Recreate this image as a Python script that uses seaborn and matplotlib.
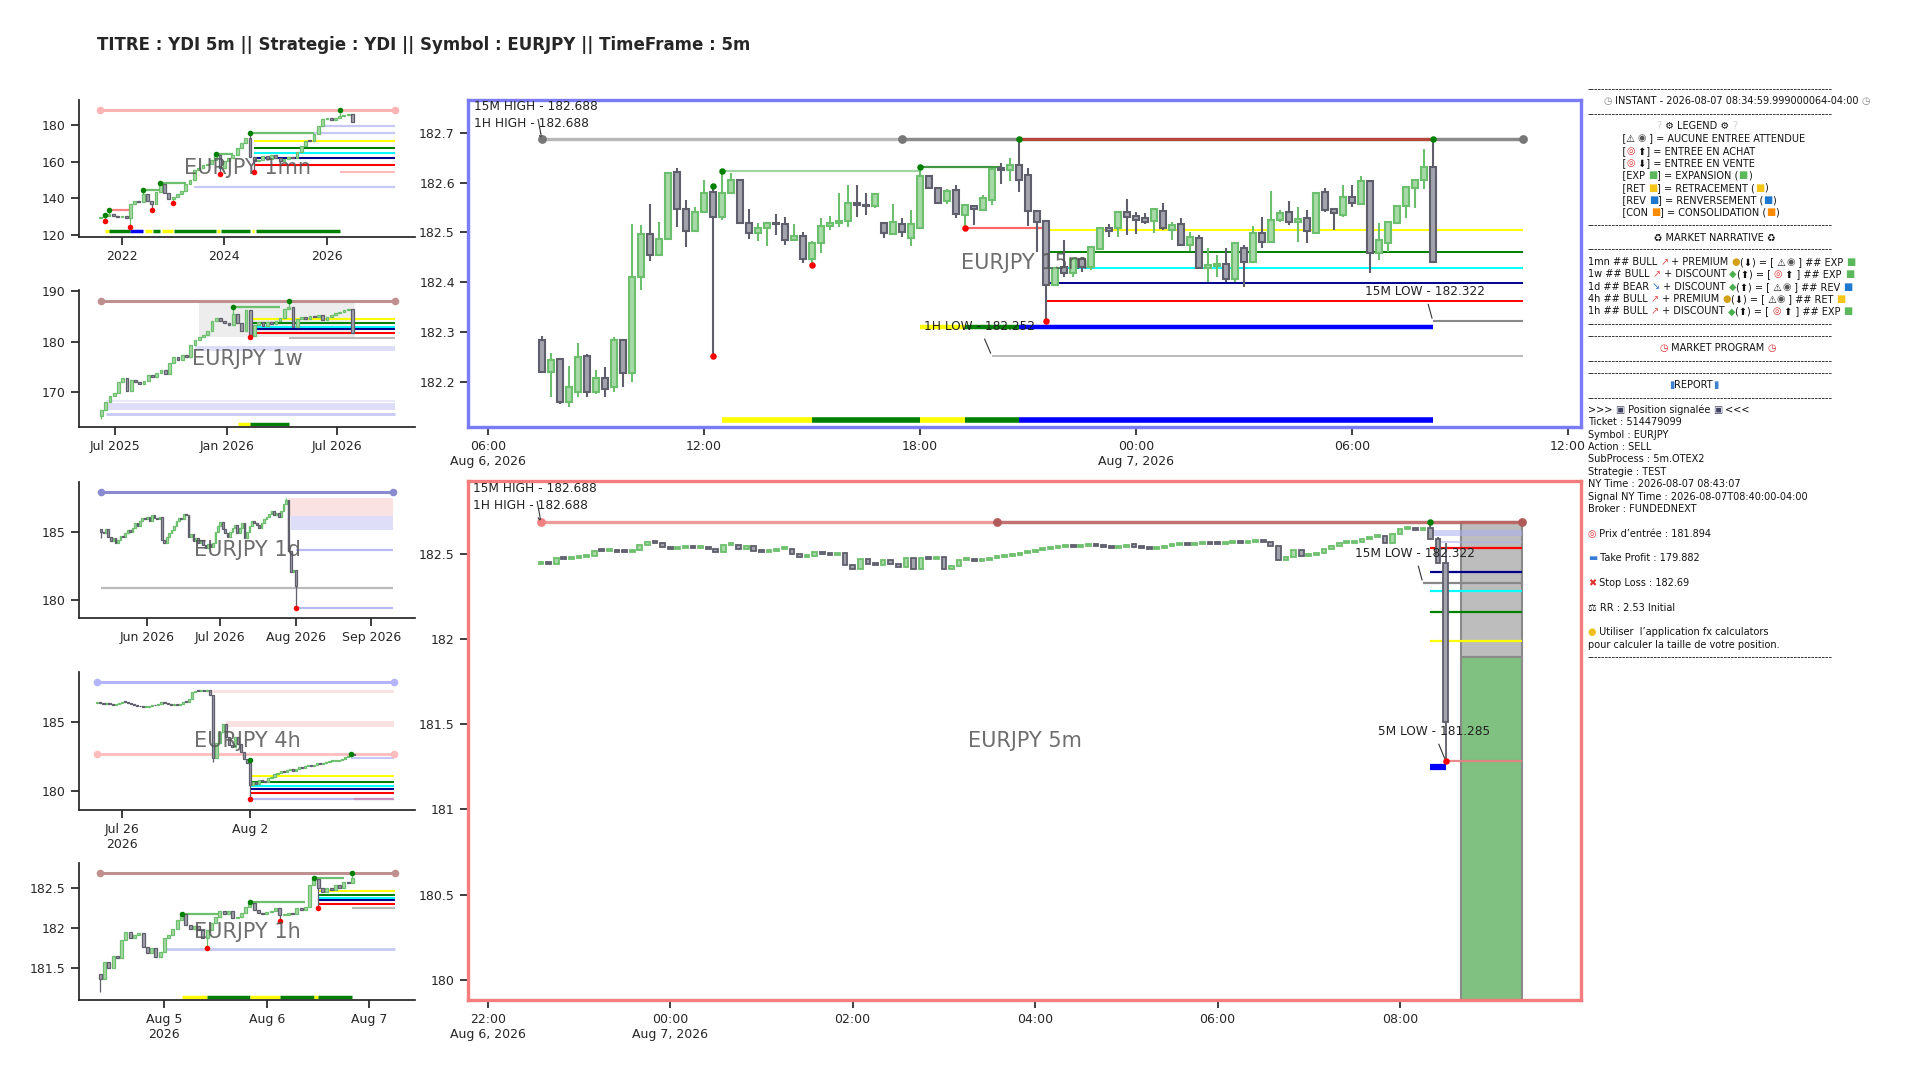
import numpy as np
import pandas as pd
import matplotlib
matplotlib.use("Agg")
import matplotlib.pyplot as plt
import matplotlib.dates as mdates
import seaborn as sns

sns.set_theme(style="ticks")
plt.rcParams["font.family"] = ["DejaVu Sans"]

# ---------------------------------------------------------------- 15m (top)
m15_start = "2026-08-06 07:30"
m15_open = [182.284, 182.220, 182.245, 182.160, 182.180, 182.251, 182.180, 182.208, 182.190, 182.283,
            182.218, 182.411, 182.496, 182.455, 182.486, 182.622, 182.546, 182.503, 182.541, 182.582,
            182.530, 182.580, 182.606, 182.519, 182.498, 182.508, 182.519, 182.517, 182.485, 182.492,
            182.446, 182.478, 182.513, 182.518, 182.523, 182.559, 182.555, 182.553, 182.519, 182.496,
            182.517, 182.488, 182.509, 182.613, 182.590, 182.563, 182.586, 182.535, 182.553, 182.545,
            182.566, 182.630, 182.626, 182.635, 182.616, 182.543, 182.523, 182.394, 182.430, 182.418,
            182.447, 182.430, 182.467, 182.508, 182.508, 182.541, 182.533, 182.529, 182.523, 182.543,
            182.505, 182.516, 182.474, 182.489, 182.428, 182.432, 182.436, 182.406, 182.469, 182.441,
            182.498, 182.481, 182.524, 182.541, 182.521, 182.528, 182.498, 182.582, 182.548, 182.535,
            182.571, 182.558, 182.604, 182.458, 182.479, 182.518, 182.553, 182.589, 182.605, 182.632]
m15_high = [182.291, 182.257, 182.247, 182.232, 182.277, 182.256, 182.224, 182.229, 182.290, 182.285,
            182.516, 182.515, 182.558, 182.521, 182.620, 182.630, 182.565, 182.551, 182.606, 182.593,
            182.624, 182.620, 182.607, 182.546, 182.518, 182.520, 182.536, 182.531, 182.516, 182.500,
            182.483, 182.528, 182.533, 182.580, 182.595, 182.596, 182.579, 182.578, 182.519, 182.558,
            182.528, 182.545, 182.632, 182.613, 182.590, 182.588, 182.595, 182.555, 182.553, 182.575,
            182.628, 182.640, 182.650, 182.688, 182.630, 182.543, 182.523, 182.430, 182.485, 182.450,
            182.450, 182.470, 182.509, 182.516, 182.541, 182.567, 182.541, 182.538, 182.549, 182.560,
            182.521, 182.529, 182.501, 182.494, 182.468, 182.455, 182.468, 182.480, 182.474, 182.513,
            182.531, 182.583, 182.545, 182.563, 182.551, 182.545, 182.580, 182.590, 182.548, 182.596,
            182.596, 182.613, 182.605, 182.518, 182.521, 182.553, 182.592, 182.606, 182.667, 182.688]
m15_low = [182.218, 182.170, 182.155, 182.150, 182.170, 182.170, 182.175, 182.170, 182.180, 182.190,
           182.200, 182.384, 182.442, 182.455, 182.485, 182.511, 182.471, 182.500, 182.538, 182.252,
           182.525, 182.577, 182.516, 182.487, 182.483, 182.473, 182.495, 182.475, 182.483, 182.438,
           182.434, 182.458, 182.505, 182.510, 182.510, 182.531, 182.535, 182.550, 182.489, 182.496,
           182.491, 182.473, 182.509, 182.590, 182.560, 182.558, 182.529, 182.508, 182.515, 182.545,
           182.555, 182.598, 182.603, 182.581, 182.513, 182.461, 182.322, 182.394, 182.410, 182.410,
           182.420, 182.425, 182.467, 182.491, 182.491, 182.495, 182.496, 182.516, 182.498, 182.505,
           182.485, 182.474, 182.462, 182.426, 182.400, 182.411, 182.400, 182.400, 182.391, 182.441,
           182.468, 182.481, 182.520, 182.515, 182.481, 182.478, 182.498, 182.541, 182.505, 182.531,
           182.551, 182.556, 182.418, 182.444, 182.461, 182.518, 182.528, 182.550, 182.588, 182.441]
m15_close = [182.220, 182.244, 182.160, 182.190, 182.249, 182.180, 182.208, 182.185, 182.284, 182.218,
             182.411, 182.496, 182.455, 182.486, 182.620, 182.546, 182.503, 182.541, 182.580, 182.530,
             182.580, 182.606, 182.519, 182.498, 182.508, 182.519, 182.517, 182.485, 182.492, 182.446,
             182.478, 182.513, 182.518, 182.523, 182.559, 182.555, 182.553, 182.578, 182.499, 182.521,
             182.501, 182.517, 182.613, 182.590, 182.560, 182.584, 182.536, 182.555, 182.546, 182.570,
             182.628, 182.626, 182.635, 182.606, 182.543, 182.521, 182.394, 182.428, 182.418, 182.447,
             182.430, 182.470, 182.509, 182.503, 182.541, 182.531, 182.525, 182.521, 182.546, 182.508,
             182.515, 182.474, 182.490, 182.429, 182.434, 182.436, 182.406, 182.478, 182.441, 182.498,
             182.481, 182.525, 182.539, 182.521, 182.526, 182.503, 182.580, 182.545, 182.538, 182.571,
             182.559, 182.604, 182.458, 182.485, 182.521, 182.553, 182.592, 182.606, 182.632, 182.441]
m15_swing_highs = [19, 20, 42, 53, 99]
m15_swing_lows = [19, 30, 47, 56]
m15_end = "2026-08-07 10:45"
m15_key_high = 182.688
m15_key_dots = ["2026-08-06 07:30", "2026-08-06 17:30", "2026-08-07 10:45"]
m15_swing_lines = [(182.624, "2026-08-06 12:30", "2026-08-06 18:00", "light"),
                   (182.632, "2026-08-06 18:00", "2026-08-06 20:15", "green"),
                   (182.508, "2026-08-06 19:15", "2026-08-06 21:30", "red")]
m15_levels = [182.505, 182.461, 182.429, 182.399, 182.363]
m15_levels_start = "2026-08-06 21:30"
m15_low_1h = (182.252, "2026-08-06 20:00")
m15_low_15m = (182.322, "2026-08-07 08:15")
m15_row_mid = [("2026-08-06 18:00", "2026-08-06 19:15", "yellow"),
               ("2026-08-06 19:15", "2026-08-06 20:45", "green"),
               ("2026-08-06 20:45", "2026-08-07 08:15", "blue")]
m15_row_mid_y = 182.31
m15_row_low = [("2026-08-06 12:30", "2026-08-06 15:00", "yellow"),
               ("2026-08-06 15:00", "2026-08-06 18:00", "green"),
               ("2026-08-06 18:00", "2026-08-06 19:15", "yellow"),
               ("2026-08-06 19:15", "2026-08-06 20:45", "green"),
               ("2026-08-06 20:45", "2026-08-07 08:15", "blue")]
m15_row_low_y = 182.124
m15_xticks = ["2026-08-06 06:00", "2026-08-06 12:00", "2026-08-06 18:00",
              "2026-08-07 00:00", "2026-08-07 06:00", "2026-08-07 12:00"]
m15_xlabels = ["06:00\nAug 6, 2026", "12:00", "18:00", "00:00\nAug 7, 2026", "06:00", "12:00"]
m15_yticks = [182.2, 182.3, 182.4, 182.5, 182.6, 182.7]

# ---------------------------------------------------------------- 5m (bottom)
m5_start = "2026-08-06 22:35"
m5_first_open = 182.442
m5_close = [182.455, 182.440, 182.475, 182.472, 182.479, 182.484, 182.489, 182.520, 182.516, 182.519,
            182.514, 182.511, 182.524, 182.553, 182.572, 182.565, 182.543, 182.528, 182.534, 182.538,
            182.535, 182.542, 182.530, 182.510, 182.553, 182.556, 182.533, 182.547, 182.518, 182.514,
            182.518, 182.528, 182.533, 182.500, 182.485, 182.489, 182.514, 182.500, 182.496, 182.504,
            182.436, 182.410, 182.469, 182.445, 182.436, 182.465, 182.442, 182.422, 182.475, 182.410,
            182.479, 182.469, 182.485, 182.410, 182.430, 182.465, 182.470, 182.462, 182.468, 182.476,
            182.483, 182.490, 182.497, 182.505, 182.515, 182.522, 182.530, 182.536, 182.543, 182.548,
            182.541, 182.550, 182.556, 182.548, 182.543, 182.536, 182.544, 182.551, 182.545, 182.538,
            182.530, 182.537, 182.546, 182.552, 182.559, 182.553, 182.560, 182.566, 182.561, 182.557,
            182.563, 182.571, 182.566, 182.572, 182.578, 182.570, 182.548, 182.468, 182.485, 182.524,
            182.489, 182.496, 182.504, 182.533, 182.549, 182.563, 182.567, 182.573, 182.588, 182.602,
            182.606, 182.567, 182.621, 182.645, 182.651, 182.644, 182.651, 182.592, 182.449, 181.512]
m5_highs = {117: 182.690, 118: 182.600, 119: 182.563}
m5_lows = {119: 181.285}
m5_end = "2026-08-07 09:20"
m5_key_high = 182.688
m5_key_dots = ["2026-08-06 22:35", "2026-08-07 03:35", "2026-08-07 09:20"]
m5_fvg = [(182.606, 182.640, "2026-08-07 08:20"), (182.565, 182.575, "2026-08-07 08:25")]
m5_levels = [181.990, 182.162, 182.285, 182.396, 182.537]
m5_levels_start = "2026-08-07 08:20"
m5_low_15m = (182.332, "2026-08-07 08:15")
m5_low_5m = (181.285, "2026-08-07 08:30")
m5_row = ("2026-08-07 08:20", "2026-08-07 08:30", 181.247)
m5_entry, m5_tp, m5_sl = 181.894, 179.882, 182.69
m5_box = ("2026-08-07 08:40", "2026-08-07 09:20")
m5_xticks = ["2026-08-06 22:00", "2026-08-07 00:00", "2026-08-07 02:00",
             "2026-08-07 04:00", "2026-08-07 06:00", "2026-08-07 08:00"]
m5_xlabels = ["22:00\nAug 6, 2026", "00:00\nAug 7, 2026", "02:00", "04:00", "06:00", "08:00"]
m5_yticks = [180, 180.5, 181, 181.5, 182, 182.5]

# ---------------------------------------------------------------- 1mn
mn_start = "2021-08-01"
mn_first_open = 129.0
mn_close = [129.5, 130.0, 131.5, 130.0, 129.8, 130.2, 129.0, 136.5, 138.5, 138.0,
            142.5, 138.5, 137.0, 143.5, 147.5, 143.0, 139.5, 140.5, 142.5, 144.0,
            147.5, 150.0, 155.5, 156.5, 158.0, 158.5, 161.0, 163.5, 156.5, 160.5,
            162.0, 163.5, 167.5, 170.0, 173.0, 162.5, 160.5, 161.0, 163.0, 161.5,
            163.5, 162.0, 160.5, 161.5, 162.5, 162.0, 165.0, 168.5, 171.5, 171.0,
            175.0, 179.5, 183.5, 184.0, 182.5, 184.0, 185.0, 185.5, 186.0, 181.5]
mn_highs = {1: 130.5, 2: 133.3, 10: 144.3, 14: 148.3, 27: 164.4, 35: 175.4, 56: 188.1}
mn_lows = {1: 127.4, 7: 124.1, 12: 133.3, 17: 137.3, 28: 153.1, 36: 154.4}

# ---------------------------------------------------------------- 1w
w_start = "2025-06-09"
w_first_open = 165.3
w_close = [166.6, 168.2, 169.4, 169.9, 172.0, 172.8, 170.3, 172.4, 172.0, 171.6,
           172.2, 173.4, 173.0, 173.9, 174.4, 173.6, 175.8, 176.9, 176.4, 177.4,
           176.9, 179.4, 180.4, 181.0, 181.4, 182.1, 184.0, 184.6, 184.1, 183.6,
           183.4, 185.4, 183.6, 182.2, 186.2, 181.2, 183.4, 183.8, 183.2, 183.9,
           183.5, 184.0, 184.6, 186.4, 186.8, 183.0, 184.4, 184.9, 184.5, 185.0,
           184.8, 185.2, 184.2, 184.9, 185.3, 185.6, 185.9, 186.2, 186.4, 181.7]
w_highs = {31: 186.9, 44: 188.0}
w_lows = {0: 164.8, 35: 180.9}

# ---------------------------------------------------------------- 1d
d_start = "2026-05-13"
d_first_open = 185.2
d_close = [185.0, 184.9, 185.2, 184.6, 184.3, 184.5, 184.2, 184.4, 184.7, 184.6,
           184.9, 185.1, 185.0, 185.3, 185.6, 185.4, 185.8, 186.0, 185.9, 186.1,
           185.8, 186.2, 186.0, 185.9, 186.1, 184.4, 184.2, 184.6, 184.9, 185.1,
           185.4, 185.8, 186.0, 185.9, 186.3, 186.2, 184.6, 184.8, 184.3, 184.5,
           184.2, 184.4, 184.0, 183.8, 184.1, 183.9, 184.2, 185.0, 185.4, 185.7,
           185.2, 184.9, 184.6, 185.0, 185.3, 185.5, 184.9, 185.3, 185.6, 184.5,
           185.0, 185.4, 185.8, 185.6, 185.5, 185.3, 185.6, 185.9, 186.1, 186.3,
           186.5, 186.2, 186.4, 186.1, 186.5, 187.0, 187.3, 183.6, 182.0, 182.2,
           181.0]
d_highs = {76: 187.45}
d_lows = {0: 184.5, 80: 179.41}

# ---------------------------------------------------------------- 4h
h4_start = "2026-07-24 16:00"
h4_first_open = 186.40
h4_close = [186.45, 186.40, 186.35, 186.38, 186.30, 186.28, 186.35, 186.42, 186.48, 186.45,
            186.40, 186.30, 186.25, 186.20, 186.15, 186.10, 186.12, 186.20, 186.25, 186.22,
            186.30, 186.45, 186.40, 186.35, 186.25, 186.30, 186.28, 186.35, 186.50, 186.45,
            186.70, 187.20, 187.30, 187.25, 187.30, 187.28, 187.32, 187.00, 182.40, 183.50,
            184.30, 184.90, 183.90, 183.30, 183.20, 183.90, 183.40, 182.80, 182.30, 182.00,
            180.40, 180.60, 180.50, 180.80, 180.70, 180.60, 180.90, 181.00, 181.20, 181.30,
            181.40, 181.35, 181.50, 181.55, 181.45, 181.60, 181.70, 181.65, 181.80, 181.85,
            181.80, 181.90, 182.00, 181.95, 182.05, 182.10, 182.15, 182.20, 182.20, 182.25,
            182.30, 182.45, 182.50, 182.65, 182.60]
h4_highs = {50: 182.24, 83: 182.68}
h4_lows = {38: 182.12, 50: 179.37}

# ---------------------------------------------------------------- 1h
h1_start = "2026-08-04 09:00"
h1_first_open = 181.42
h1_close = [181.35, 181.57, 181.50, 181.64, 181.62, 181.85, 181.95, 181.87, 181.91, 181.93,
            181.76, 181.68, 181.75, 181.63, 181.70, 181.87, 181.91, 181.99, 182.10, 182.18,
            182.04, 181.99, 182.02, 181.97, 181.87, 181.97, 182.06, 182.14, 182.21, 182.18,
            182.22, 182.12, 182.14, 182.19, 182.27, 182.31, 182.23, 182.19, 182.17, 182.20,
            182.22, 182.25, 182.16, 182.16, 182.19, 182.17, 182.25, 182.23, 182.27, 182.54,
            182.62, 182.50, 182.46, 182.50, 182.48, 182.54, 182.51, 182.58, 182.57, 182.63]
h1_highs = {19: 182.18, 35: 182.33, 50: 182.63, 59: 182.69}
h1_lows = {0: 181.19, 25: 181.75, 42: 182.09, 51: 182.25}

# ---------------------------------------------------------------- text panel
panel_lines = [
    "-" * 70,
    "     \u23f1 INSTANT - 2026-08-07 08:34:59.999000064-04:00 \u23f1",
    "-" * 70,
    "                      \u2754 \u2699 LEGEND \u2699 \u2754",
    "           [\u26a0 \U0001F441 ] = AUCUNE ENTREE ATTENDUE",
    "           [\U0001F3AF \u2B06] = ENTREE EN ACHAT",
    "           [\U0001F3AF \u2B07] = ENTREE EN VENTE",
    "           [EXP \U0001F7E9] = EXPANSION (\U0001F7E9)",
    "           [RET \U0001F7E8] = RETRACEMENT (\U0001F7E8)",
    "           [REV \U0001F7E6] = RENVERSEMENT (\U0001F7E6)",
    "           [CON \U0001F7E7] = CONSOLIDATION (\U0001F7E7)",
    "-" * 70,
    "                     \u267b MARKET NARRATIVE \u267b",
    "-" * 70,
    "1mn ## BULL \U0001F4C8 + PREMIUM \U0001F4B0(\u2B07) = [ \u26a0\U0001F441 ] ## EXP \U0001F7E9",
    "1w ## BULL \U0001F4C8 + DISCOUNT \U0001F4B8(\u2B06) = [ \U0001F3AF \u2B06 ] ## EXP \U0001F7E9",
    "1d ## BEAR \U0001F4C9 + DISCOUNT \U0001F4B8(\u2B06) = [ \u26a0\U0001F441 ] ## REV \U0001F7E6",
    "4h ## BULL \U0001F4C8 + PREMIUM \U0001F4B0(\u2B07) = [ \u26a0\U0001F441 ] ## RET \U0001F7E8",
    "1h ## BULL \U0001F4C8 + DISCOUNT \U0001F4B8(\u2B06) = [ \U0001F3AF \u2B06 ] ## EXP \U0001F7E9",
    "-" * 70,
    "-" * 70,
    "                       \u23f0 MARKET PROGRAM \u23f0",
    "-" * 70,
    "-" * 70,
    "                          \U0001F4CAREPORT\U0001F4CA",
    "-" * 70,
    ">>> \U0001F4FA Position signal\u00e9e \U0001F4FA <<<",
    "Ticket : 514479099",
    "Symbol : EURJPY",
    "Action : SELL",
    "SubProcess : 5m.OTEX2",
    "Strategie : TEST",
    "NY Time : 2026-08-07 08:43:07",
    "Signal NY Time : 2026-08-07T08:40:00-04:00",
    "Broker : FUNDEDNEXT",
    "",
    "\U0001F3AF Prix d\u2019entr\u00e9e : 181.894",
    "",
    "\U0001F4B6 Take Profit : 179.882",
    "",
    "\u274C Stop Loss : 182.69",
    "",
    "\u2696 RR : 2.53 Initial",
    "",
    "\U0001F4A1 Utiliser  l\u2019application fx calculators",
    "pour calculer la taille de votre position.",
    "-" * 70,
]
title = "TITRE : YDI 5m || Strategie : YDI || Symbol : EURJPY || TimeFrame : 5m"

# ---------------------------------------------------------------- styles
BULL_FILL, BULL_EDGE = "#a8d9a8", "#6cbf6c"
BEAR_FILL, BEAR_EDGE = "#a3a3ad", "#5e5e6c"
LEVEL_COLORS = ["#ffff00", "#008000", "#00ffff", "#00008b", "#ff0000"]
LAV = "#c8c8f5"
SEG = {"yellow": "#ffff00", "green": "#008000", "blue": "#0000ff"}
TEXT_COLOR = "#111111"
# emoji that no installed font has -> drawn as a coloured shape glyph
EMOJI_SHAPES = {
    "\u23f1": ("\u25f7", "#8a8a8a"), "\u23f0": ("\u25f7", "#e03030"),
    "\u2754": ("?", "#cfcfcf"), "\U0001F441": ("\u25c9", "#555555"),
    "\U0001F3AF": ("\u25ce", "#e03030"), "\U0001F7E9": ("\u25a0", "#5cb85c"),
    "\U0001F7E8": ("\u25a0", "#f5c518"), "\U0001F7E6": ("\u25a0", "#1e78d0"),
    "\U0001F7E7": ("\u25a0", "#ff8c00"), "\U0001F4C8": ("\u2197", "#e05050"),
    "\U0001F4C9": ("\u2198", "#3070d0"), "\U0001F4B0": ("\u25cf", "#d4a017"),
    "\U0001F4B8": ("\u25c6", "#4caf50"), "\U0001F4CA": ("\u25ae", "#4080d0"),
    "\U0001F4FA": ("\u25a3", "#404060"), "\U0001F4B6": ("\u25ac", "#3a7bd5"),
    "\u274C": ("\u2716", "#e03030"), "\U0001F4A1": ("\u25cf", "#f0c020"),
}


def T(s):
    return mdates.date2num(pd.Timestamp(s))


def chain(first_open, closes, highs, lows):
    c = np.asarray(closes, float)
    o = np.r_[first_open, c[:-1]]
    h = np.maximum(o, c)
    l = np.minimum(o, c)
    for k, v in highs.items():
        h[k] = v
    for k, v in lows.items():
        l[k] = v
    return o, h, l, c


def candles(ax, times, o, h, l, c, width, lw, min_body):
    x = mdates.date2num(times.to_pydatetime())
    o, h, l, c = (np.asarray(v, float) for v in (o, h, l, c))
    up = c >= o
    bottom = np.minimum(o, c)
    height = np.maximum(np.abs(c - o), min_body)
    ax.vlines(x[up], l[up], h[up], color=BULL_EDGE, lw=lw, zorder=3)
    ax.vlines(x[~up], l[~up], h[~up], color=BEAR_EDGE, lw=lw, zorder=3)
    ax.bar(x[up], height[up], bottom=bottom[up], width=width, color=BULL_FILL,
           edgecolor=BULL_EDGE, linewidth=lw, zorder=4)
    ax.bar(x[~up], height[~up], bottom=bottom[~up], width=width, color=BEAR_FILL,
           edgecolor=BEAR_EDGE, linewidth=lw, zorder=4)
    return x


def hseg(ax, y, t0, t1, color, lw=1.2, alpha=1.0, z=2):
    ax.hlines(y, T(t0), T(t1), colors=color, lw=lw, alpha=alpha, zorder=z)


def band(ax, y0, y1, t0, t1, color, alpha=0.5, z=1):
    ax.fill_between([T(t0), T(t1)], y0, y1, color=color, alpha=alpha, lw=0, zorder=z)


def dots(ax, xs, ys, color, s=16, z=6):
    sns.scatterplot(x=list(xs), y=list(ys), color=color, s=s, ax=ax, zorder=z,
                    linewidth=0, legend=False)


def watermark(ax, label):
    ax.text(0.5, 0.5, label, transform=ax.transAxes, ha="center", va="center",
            fontsize=15, color="#555555", alpha=0.85, zorder=7)


def tag(ax, label, t, y, dy=21):
    ax.annotate(label, xy=(T(t), y), xytext=(-49, dy), textcoords="offset points",
                ha="left", va="center", fontsize=8.7, color="#222222", zorder=8,
                arrowprops=dict(arrowstyle="-", color="#333333", lw=0.8))


fig = plt.figure(figsize=(19.2, 10.8), dpi=100)
fig.text(0.0505, 0.958, title, fontsize=12, fontweight="bold", ha="left", va="center")

# ================================================================ top main 15m
ax = fig.add_axes([0.24375, 0.60463, 0.57969, 0.30278])
t15 = pd.date_range(m15_start, periods=len(m15_close), freq="15min")
x15 = candles(ax, t15, m15_open, m15_high, m15_low, m15_close, 0.62 * 15 / 1440, 1.5, 0.002)
hseg(ax, m15_key_high, m15_start, m15_end, "#999999", lw=2.4, alpha=0.7)
hseg(ax, m15_key_high, m15_key_dots[1], m15_end, "#777777", lw=2.4, alpha=0.7)
hseg(ax, m15_key_high, str(t15[53]), str(t15[99]), "#c0392b", lw=2.2, alpha=0.85, z=2.5)
dots(ax, [T(s) for s in m15_key_dots], [m15_key_high] * 3, "#777777", s=40)
for y, t0, t1, kind in m15_swing_lines:
    col = {"light": "#7cc47c", "green": "#2e8b2e", "red": "#ff5555"}[kind]
    hseg(ax, y, t0, t1, col, lw=1.6, alpha=0.9 if kind != "light" else 0.7)
for y, col in zip(m15_levels, LEVEL_COLORS):
    hseg(ax, y, m15_levels_start, m15_end, col, lw=1.4)
hseg(ax, m15_low_1h[0], m15_low_1h[1], m15_end, "#bbbbbb", lw=1.5)
hseg(ax, m15_low_15m[0], m15_low_15m[1], m15_end, "#888888", lw=1.5)
for t0, t1, col in m15_row_mid:
    hseg(ax, m15_row_mid_y, t0, t1, SEG[col], lw=3.2, z=2.2)
for t0, t1, col in m15_row_low:
    hseg(ax, m15_row_low_y, t0, t1, SEG[col], lw=4.0, z=2.2)
dots(ax, x15[m15_swing_highs], np.array(m15_high)[m15_swing_highs], "#008000", s=22)
dots(ax, x15[m15_swing_lows], np.array(m15_low)[m15_swing_lows], "#ff0000", s=22)
tag(ax, "15M HIGH - 182.688", m15_start, m15_key_high, dy=23)
tag(ax, "1H HIGH - 182.688", m15_start, m15_key_high, dy=11)
tag(ax, "1H LOW - 182.252", m15_low_1h[1], m15_low_1h[0])
tag(ax, "15M LOW - 182.322", m15_low_15m[1], m15_low_15m[0])
watermark(ax, "EURJPY 15m")
ax.set_xlim(T("2026-08-06 05:27"), T("2026-08-07 12:22"))
ax.set_ylim(182.109, 182.766)
ax.set_xticks([T(s) for s in m15_xticks])
ax.set_xticklabels(m15_xlabels)
ax.set_yticks(m15_yticks)
ax.set_yticklabels([f"{v:g}" for v in m15_yticks])
for sp in ax.spines.values():
    sp.set_color("#7b7bf5")
    sp.set_linewidth(2.4)
ax.tick_params(labelsize=9)

# ================================================================ bottom main 5m
ax = fig.add_axes([0.24375, 0.07407, 0.57969, 0.48056])
t5 = pd.date_range(m5_start, periods=len(m5_close), freq="5min")
o5, h5, l5, c5 = chain(m5_first_open, m5_close, m5_highs, m5_lows)
x5 = candles(ax, t5, o5, h5, l5, c5, 0.62 * 5 / 1440, 1.3, 0.012)
hseg(ax, m5_key_high, m5_start, m5_end, "#e88080", lw=2.4, alpha=0.8)
hseg(ax, m5_key_high, m5_key_dots[1], m5_end, "#a05050", lw=2.4, alpha=0.55)
dots(ax, [T(m5_key_dots[0])], [m5_key_high], "#f08080", s=40)
dots(ax, [T(s) for s in m5_key_dots[1:]], [m5_key_high] * 2, "#b05a5a", s=40)
ax.fill_between([T(m5_box[0]), T(m5_box[1])], m5_entry, m5_sl, color="#bdbdbd",
                edgecolor="#8a8a8a", lw=1.5, zorder=1.5)
ax.fill_between([T(m5_box[0]), T(m5_box[1])], m5_tp, m5_entry, color="#80c080",
                edgecolor="#8a8a8a", lw=1.5, zorder=1.5)
for y0, y1, t0 in m5_fvg:
    band(ax, y0, y1, t0, m5_end, "#aab0f0", alpha=0.55, z=2)
for y, col in zip(m5_levels, LEVEL_COLORS):
    hseg(ax, y, m5_levels_start, m5_end, col, lw=1.6, z=2.5)
hseg(ax, m5_low_15m[0], m5_low_15m[1], m5_end, "#888888", lw=1.6, z=2.5)
hseg(ax, m5_low_5m[0], m5_low_5m[1], m5_end, "#e88080", lw=1.6, alpha=0.9, z=2.5)
hseg(ax, m5_row[2], m5_row[0], m5_row[1], "#0000ff", lw=4.5, z=2.5)
dots(ax, [x5[117]], [h5[117]], "#008000", s=22)
dots(ax, [x5[119]], [l5[119]], "#ff0000", s=22)
tag(ax, "15M HIGH - 182.688", m5_start, m5_key_high, dy=24)
tag(ax, "1H HIGH - 182.688", m5_start, m5_key_high, dy=12)
tag(ax, "15M LOW - 182.322", m5_low_15m[1], m5_low_15m[0])
tag(ax, "5M LOW - 181.285", m5_low_5m[1], m5_low_5m[0])
watermark(ax, "EURJPY 5m")
ax.set_xlim(T("2026-08-06 21:47"), T("2026-08-07 09:59"))
ax.set_ylim(179.88, 182.93)
ax.set_xticks([T(s) for s in m5_xticks])
ax.set_xticklabels(m5_xlabels)
ax.set_yticks(m5_yticks)
ax.set_yticklabels([f"{v:g}" for v in m5_yticks])
for sp in ax.spines.values():
    sp.set_color("#f47c7c")
    sp.set_linewidth(2.4)
ax.tick_params(labelsize=9)


# ================================================================ small charts
def small_axes(rect, xlim, ylim, xticks, xlabels, yticks, label):
    a = fig.add_axes(rect)
    a.set_xlim(T(xlim[0]), T(xlim[1]))
    a.set_ylim(*ylim)
    a.set_xticks([T(s) for s in xticks])
    a.set_xticklabels(xlabels)
    a.set_yticks(yticks)
    a.set_yticklabels([f"{v:g}" for v in yticks])
    a.tick_params(labelsize=9)
    sns.despine(ax=a)
    watermark(a, label)
    return a


# ---- 1mn
ax = small_axes([0.04115, 0.78056, 0.175, 0.12685], ("2021-03-01", "2027-09-20"), (118.7, 193.7),
                ["2022-01-01", "2024-01-01", "2026-01-01"], ["2022", "2024", "2026"],
                [120, 140, 160, 180], "EURJPY 1mn")
tm = pd.date_range(mn_start, periods=len(mn_close), freq="MS")
o, h, l, c = chain(mn_first_open, mn_close, mn_highs, mn_lows)
xm = candles(ax, tm, o, h, l, c, 20, 0.9, 0.6)
mn_end = "2027-05-01"
hseg(ax, 188.1, mn_start, mn_end, "#ffb3b3", lw=2.2)
dots(ax, [T(mn_start), T(mn_end)], [188.1, 188.1], "#ffb3b3", s=30)
for y, i0, i1, col in [(133.3, 2, 7, "#ff8080"), (144.3, 10, 14, "#6cbf6c"), (148.3, 14, 20, "#6cbf6c"),
                       (164.4, 27, 31, "#6cbf6c"), (175.4, 35, 50, "#6cbf6c")]:
    hseg(ax, y, str(tm[i0]), str(tm[i1]), col, lw=1.6)
for y, i0 in [(179.6, 52), (175.4, 50), (145.8, 22)]:
    hseg(ax, y, str(tm[i0]), mn_end, LAV, lw=1.6)
hseg(ax, 154.3, str(tm[56]), mn_end, "#ffbcbc", lw=1.6)
for y, col in zip([171.2, 167.2, 164.5, 161.7, 158.2], LEVEL_COLORS):
    hseg(ax, y, str(tm[36]), mn_end, col, lw=1.5)
for t0, t1, col in [("2021-09-01", "2021-10-01", "yellow"), ("2021-10-01", "2022-03-01", "green"),
                    ("2022-03-01", "2022-06-01", "blue"), ("2022-06-15", "2022-08-01", "yellow"),
                    ("2022-08-10", "2022-10-01", "green"), ("2022-10-15", "2023-01-01", "yellow"),
                    ("2023-01-10", "2023-11-01", "green"), ("2023-11-10", "2023-12-01", "yellow"),
                    ("2023-12-10", "2024-07-01", "green"), ("2024-07-15", "2024-08-01", "yellow"),
                    ("2024-08-10", "2026-04-01", "green")]:
    hseg(ax, 122.0, t0, t1, SEG[col], lw=2.5)
hi_idx = list(mn_highs)
lo_idx = list(mn_lows)
dots(ax, xm[hi_idx], h[hi_idx], "#008000", s=16)
dots(ax, xm[lo_idx], l[lo_idx], "#ff0000", s=16)

# ---- 1w
ax = small_axes([0.04115, 0.60463, 0.175, 0.12685], ("2025-05-03", "2026-11-07"), (163.2, 190.2),
                ["2025-07-01", "2026-01-01", "2026-07-01"], ["Jul 2025", "Jan 2026", "Jul 2026"],
                [170, 180, 190], "EURJPY 1w")
tw = pd.date_range(w_start, periods=len(w_close), freq="7D")
o, h, l, c = chain(w_first_open, w_close, w_highs, w_lows)
xw = candles(ax, tw, o, h, l, c, 4.5, 0.9, 0.25)
w_end = "2026-10-05"
band(ax, 181.0, 187.7, str(tw[23]), "2026-08-01", "#d9d9d9", alpha=0.45, z=0.5)
hseg(ax, 188.0, w_start, w_end, "#c09090", lw=2.2)
dots(ax, [T(w_start), T(w_end)], [188.0, 188.0], "#c09090", s=30)
hseg(ax, 186.9, str(tw[31]), str(tw[42]), "#6cbf6c", lw=1.6)
for y, col in zip([184.4, 183.6, 183.0, 182.5, 181.7], LEVEL_COLORS):
    hseg(ax, y, str(tw[35]), w_end, col, lw=1.5)
hseg(ax, 180.8, str(tw[44]), w_end, "#bbbbbb", lw=1.5)
band(ax, 178.1, 179.2, str(tw[22]), w_end, LAV, alpha=0.6)
band(ax, 166.6, 168.0, str(tw[1]), w_end, LAV, alpha=0.6)
hseg(ax, 165.8, str(tw[1]), w_end, LAV, lw=2.0)
hseg(ax, 168.4, str(tw[1]), w_end, "#e4e4fa", lw=1.2)
hseg(ax, 163.8, str(tw[32]), str(tw[35]), SEG["yellow"], lw=2.5)
hseg(ax, 163.8, str(tw[35]), str(tw[44]), SEG["green"], lw=2.5)
dots(ax, xw[[31, 44]], h[[31, 44]], "#008000", s=16)
dots(ax, xw[[35]], l[[35]], "#ff0000", s=16)

# ---- 1d
ax = small_axes([0.04115, 0.42778, 0.175, 0.12593], ("2026-05-04", "2026-09-19"), (178.66, 188.64),
                ["2026-06-01", "2026-07-01", "2026-08-01", "2026-09-01"],
                ["Jun 2026", "Jul 2026", "Aug 2026", "Sep 2026"], [180, 185], "EURJPY 1d")
td = pd.date_range(d_start, periods=len(d_close), freq="D")
o, h, l, c = chain(d_first_open, d_close, d_highs, d_lows)
xd = candles(ax, td, o, h, l, c, 0.7, 0.9, 0.08)
d_end = "2026-09-10"
hseg(ax, 187.88, d_start, d_end, "#8a8ad0", lw=2.2)
dots(ax, [T(d_start), T(d_end)], [187.88, 187.88], "#8a8ad0", s=30)
band(ax, 186.15, 187.44, str(td[77]), d_end, "#f9c6c6", alpha=0.5)
band(ax, 185.12, 186.15, str(td[78]), d_end, LAV, alpha=0.6)
hseg(ax, 183.66, str(td[80]), d_end, "#b8b8f2", lw=1.6)
hseg(ax, 180.83, d_start, d_end, "#bbbbbb", lw=1.6)
hseg(ax, 179.42, str(td[80]), d_end, "#b8b8f2", lw=1.6)
dots(ax, xd[[80]], l[[80]], "#ff0000", s=16)

# ---- 4h
ax = small_axes([0.04115, 0.25, 0.175, 0.12778], ("2026-07-23 16:00", "2026-08-11 00:00"),
                (178.59, 188.66), ["2026-07-26", "2026-08-02"], ["Jul 26\n2026", "Aug 2"],
                [180, 185], "EURJPY 4h")
t4 = pd.date_range(h4_start, periods=len(h4_close), freq="4h")
o, h, l, c = chain(h4_first_open, h4_close, h4_highs, h4_lows)
x4 = candles(ax, t4, o, h, l, c, 0.7 * 4 / 24, 0.9, 0.06)
h4_end = "2026-08-09 20:00"
hseg(ax, 187.9, h4_start, h4_end, "#b4b4fa", lw=2.2)
dots(ax, [T(h4_start), T(h4_end)], [187.9, 187.9], "#b4b4fa", s=30)
band(ax, 187.12, 187.36, str(t4[36]), h4_end, "#f9c6c6", alpha=0.5)
band(ax, 184.68, 185.10, str(t4[42]), h4_end, "#f9c6c6", alpha=0.5)
hseg(ax, 182.68, h4_start, h4_end, "#ffbcbc", lw=2.0)
dots(ax, [T(h4_start), T(h4_end)], [182.68, 182.68], "#ffbcbc", s=30)
hseg(ax, 182.37, str(t4[83]), h4_end, LAV, lw=1.5)
for y, col in zip([181.07, 180.66, 180.37, 180.10, 179.81], LEVEL_COLORS):
    hseg(ax, y, str(t4[50]), h4_end, col, lw=1.5)
hseg(ax, 179.39, str(t4[51]), h4_end, "#b8b8f2", lw=1.6)
hseg(ax, 179.39, str(t4[84]), h4_end, "#c890c0", lw=1.6, z=2.2)
dots(ax, x4[[50, 83]], h[[50, 83]], "#008000", s=16)
dots(ax, x4[[50]], l[[50]], "#ff0000", s=16)

# ---- 1h
ax = small_axes([0.04115, 0.07407, 0.175, 0.12685], ("2026-08-04 04:00", "2026-08-07 10:40"),
                (181.09, 182.82), ["2026-08-05", "2026-08-06", "2026-08-07"],
                ["Aug 5\n2026", "Aug 6", "Aug 7"], [181.5, 182, 182.5], "EURJPY 1h")
t1 = pd.date_range(h1_start, periods=len(h1_close), freq="h")
o, h, l, c = chain(h1_first_open, h1_close, h1_highs, h1_lows)
x1 = candles(ax, t1, o, h, l, c, 0.7 / 24, 0.9, 0.012)
h1_end = "2026-08-07 06:00"
hseg(ax, 182.69, h1_start, h1_end, "#c09090", lw=2.2)
dots(ax, [T(h1_start), T(h1_end)], [182.69, 182.69], "#c09090", s=30)
for y, i0, i1 in [(182.18, 19, 28), (182.33, 35, 48), (182.63, 50, 57)]:
    hseg(ax, y, str(t1[i0]), str(t1[i1]), "#6cbf6c", lw=1.6)
for y, col in zip([182.47, 182.42, 182.38, 182.35, 182.30], LEVEL_COLORS):
    hseg(ax, y, str(t1[51]), h1_end, col, lw=1.5)
hseg(ax, 182.25, str(t1[59]), h1_end, "#bbbbbb", lw=1.6)
hseg(ax, 181.74, str(t1[15]), h1_end, LAV, lw=2.0)
for i0, i1, col in [(19, 25, "yellow"), (25, 35, "green"), (35, 42, "yellow"),
                    (42, 50, "green"), (50, 51, "yellow"), (51, 59, "green")]:
    hseg(ax, 181.13, str(t1[i0]), str(t1[i1]), SEG[col], lw=2.5)
dots(ax, x1[[19, 35, 50, 59]], h[[19, 35, 50, 59]], "#008000", s=16)
dots(ax, x1[[25, 42, 51]], l[[25, 42, 51]], "#ff0000", s=16)

# ================================================================ text panel
renderer = fig.canvas.get_renderer()
PANEL_FS = 7


def text_width(s):
    # width in figure fraction, bars keep leading/trailing spaces counted
    t = fig.text(0, 0, "|" + s + "|", fontsize=PANEL_FS)
    w = t.get_window_extent(renderer).width
    t.remove()
    return (w - BAR_W) / fig.bbox.width


_bars = fig.text(0, 0, "||", fontsize=PANEL_FS)
BAR_W = _bars.get_window_extent(renderer).width
_bars.remove()

for i, line in enumerate(panel_lines):
    y = 1 - (89 + 12.35 * i) / 1080
    pieces, buf = [], ""
    for ch in line:
        if ch in EMOJI_SHAPES:
            if buf:
                pieces.append((buf, TEXT_COLOR))
                buf = ""
            pieces.append(EMOJI_SHAPES[ch])
        else:
            buf += ch
    if buf:
        pieces.append((buf, TEXT_COLOR))
    x = 0.827
    for s, col in pieces:
        fig.text(x, y, s, fontsize=PANEL_FS, ha="left", va="center", color=col)
        x += text_width(s)

fig.savefig("out.png", dpi=100)
